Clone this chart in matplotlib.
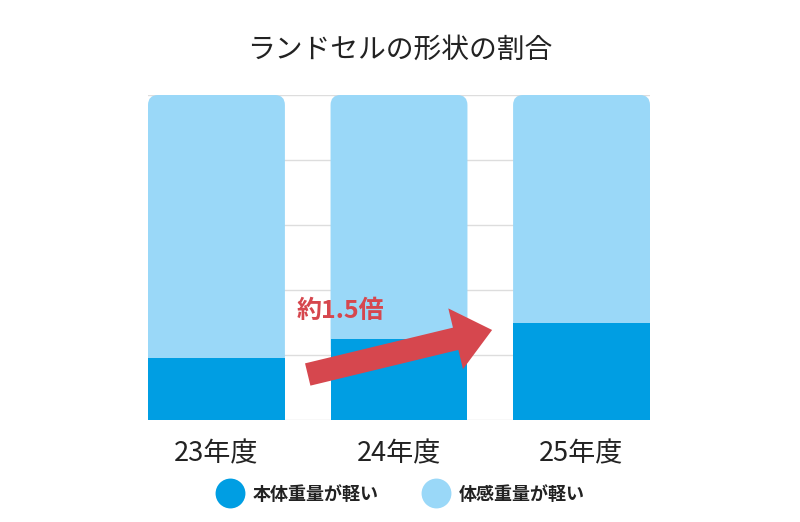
import matplotlib
matplotlib.use("Agg")
import matplotlib.pyplot as plt
from matplotlib.patches import FancyBboxPatch
from matplotlib.lines import Line2D
import numpy as np

plt.rcParams['font.family'] = ['Noto Sans CJK JP', 'DejaVu Sans']

title = "ランドセルの形状の割合"
categories = ["23年度", "24年度", "25年度"]
series_names = ["本体重量が軽い", "体感重量が軽い"]
body_light = [19, 25, 30]
feel_light = [81, 75, 70]
annotation_text = "約1.5倍"

c_dark = "#009ee3"
c_light = "#9ad8f8"
c_red = "#d6474e"
c_text = "#222222"

fig = plt.figure(figsize=(8, 5.22), dpi=100)
ax = fig.add_axes([148/800, 1-420/522, (650-148)/800, (420-95)/522])

x = np.arange(len(categories))
width = 0.75
ax.set_xlim(-0.375, 2.375)
ax.set_ylim(0, 100)

# dark bars
ax.bar(x, body_light, width=width, color=c_dark, zorder=3, linewidth=0)
# light bars stacked on top, drawn with rounded top corners
lb = ax.bar(x, feel_light, bottom=body_light, width=width, color=c_light, zorder=2, linewidth=0)
rx = 0.055
ry = 3.1
for p in lb.patches:
    x0, y0 = p.get_x(), p.get_y()
    w, h = p.get_width(), p.get_height()
    p.set_visible(False)
    fb = FancyBboxPatch((x0, y0 - 2*ry), w, h + 2*ry,
                        boxstyle=f"round,pad=0,rounding_size={rx}",
                        mutation_aspect=ry/rx, facecolor=c_light,
                        edgecolor='none', zorder=2)
    ax.add_patch(fb)

ax.set_yticks(np.arange(0, 101, 20))
ax.yaxis.grid(True, color="#dddddd", linewidth=1, zorder=0)
ax.set_axisbelow(True)
ax.tick_params(axis='y', left=False, labelleft=False)
ax.tick_params(axis='x', bottom=False, pad=11)
ax.set_xticks(x)
ax.set_xticklabels(categories, fontsize=19.5, color=c_text)
for s in ax.spines.values():
    s.set_visible(False)

# arrow annotation
ax.annotate("", xy=(1.51, 27.7), xytext=(0.5, 14.0),
            arrowprops=dict(arrowstyle="simple,head_length=27,head_width=45,tail_width=16.5",
                            mutation_scale=1, color=c_red, shrinkA=0, shrinkB=0, linewidth=0),
            zorder=5)
ax.text(0.44, 33.5, annotation_text, color=c_red, fontsize=18, fontweight='bold',
        ha='left', va='center', zorder=6)

fig.text(0.5, 1-50/522, title, ha='center', va='center', fontsize=20, color=c_text)

handles = [Line2D([], [], marker='o', linestyle='none', markersize=21.5,
                  markerfacecolor=c, markeredgecolor='none') for c in (c_dark, c_light)]
leg = fig.legend(handles, series_names, loc='center', bbox_to_anchor=(0.5, 1-494/522),
                 ncol=2, frameon=False, handlelength=1.6, handletextpad=0.45,
                 columnspacing=2.4, prop={'size': 13, 'weight': 'bold'})
for t in leg.get_texts():
    t.set_color(c_text)

fig.savefig("out.png", dpi=100, facecolor='white')
